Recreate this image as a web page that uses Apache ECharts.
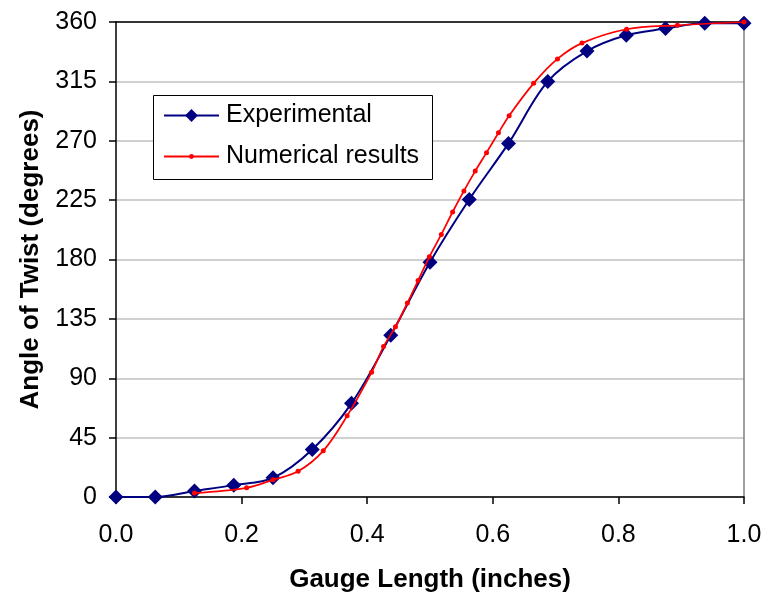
<!DOCTYPE html>
<html>
<head>
<meta charset="utf-8">
<script src="https://cdn.jsdelivr.net/npm/echarts@6/dist/echarts.min.js"></script>
<style>
html,body{margin:0;padding:0;background:#fff;}
#chart{width:765px;height:594px;}
</style>
</head>
<body>
<div id="chart"></div>
<script>
var xTicks = [0, 0.2, 0.4, 0.6, 0.8, 1.0];
var yTicks = [0, 45, 90, 135, 180, 225, 270, 315, 360];

var expName = 'Experimental';
var expX = [0, 0.0625, 0.125, 0.1875, 0.25, 0.3125, 0.375, 0.4375, 0.5, 0.5625, 0.625, 0.6875, 0.75, 0.8125, 0.875, 0.9375, 1.0];
var expY = [0, 0, 4.5, 9, 14.5, 36, 71, 122.5, 178, 225.5, 268, 315, 338, 350, 355, 359, 359];

var numName = 'Numerical results';
var numX = [0.125, 0.208, 0.25, 0.29, 0.33, 0.368, 0.407, 0.426, 0.445, 0.464, 0.481, 0.499, 0.518, 0.536, 0.554, 0.572, 0.590, 0.609, 0.626, 0.665, 0.703, 0.742, 0.813, 0.894, 1.0];
var numY = [3, 7, 13, 19.5, 35, 61.5, 94.5, 114, 129, 147, 164, 182, 199, 216, 232, 247, 261, 276, 289, 313.5, 332, 344, 354.5, 357.5, 360];

function pairs(xs, ys) { return xs.map(function (x, i) { return [x, ys[i]]; }); }

var FONT = 'Liberation Sans, Arial, sans-serif';
var chart = echarts.init(document.getElementById('chart'));
chart.setOption({
  backgroundColor: '#ffffff',
  animation: false,
  textStyle: { fontFamily: FONT },
  grid: { left: 116, right: 21, top: 22, bottom: 97, containLabel: false, outerBoundsMode: 'none' },
  graphic: [{
    type: 'rect', z: 5,
    shape: { x: 153.5, y: 95.5, width: 279, height: 84 },
    style: { fill: '#ffffff', stroke: '#000000', lineWidth: 1 }
  }],
  legend: [{
    data: [expName], orient: 'vertical', left: 163, top: 103, padding: 0, z: 10,
    itemWidth: 55, itemHeight: 16,
    textStyle: { fontSize: 25, color: '#000', fontFamily: FONT, padding: [0, 0, 0, 2] }
  }, {
    data: [numName], orient: 'vertical', left: 163, top: 144, padding: 0, z: 10,
    itemWidth: 55, itemHeight: 6,
    textStyle: { fontSize: 25, color: '#000', fontFamily: FONT, padding: [0, 0, 0, 2] }
  }],
  xAxis: [{
    type: 'value', min: xTicks[0], max: xTicks[xTicks.length - 1], interval: 0.2,
    name: 'Gauge Length (inches)', nameLocation: 'middle', nameGap: 70,
    nameTextStyle: { fontSize: 26, fontWeight: 'bold', color: '#000', fontFamily: FONT },
    axisLine: { show: true, onZero: false, lineStyle: { color: '#000', width: 1.5 } },
    axisTick: { show: true, inside: false, length: 7, lineStyle: { color: '#000', width: 1.5 } },
    axisLabel: { fontSize: 25, color: '#000', margin: 26, fontFamily: FONT,
      formatter: function (v) { return v.toFixed(1); } },
    splitLine: { show: false }
  }, {
    type: 'value', position: 'top', min: xTicks[0], max: xTicks[xTicks.length - 1],
    axisLine: { show: true, onZero: false, lineStyle: { color: '#000', width: 1.5 } },
    axisTick: { show: false }, axisLabel: { show: false }, splitLine: { show: false }
  }],
  yAxis: [{
    type: 'value', min: yTicks[0], max: yTicks[yTicks.length - 1], interval: 45,
    name: 'Angle of Twist (degrees)', nameLocation: 'middle', nameGap: 72,
    nameTextStyle: { fontSize: 26, fontWeight: 'bold', color: '#000', fontFamily: FONT },
    axisLine: { show: true, onZero: false, lineStyle: { color: '#000', width: 1.5 } },
    axisTick: { show: true, inside: false, length: 7, lineStyle: { color: '#000', width: 1.5 } },
    axisLabel: { fontSize: 25, color: '#000', margin: 19, fontFamily: FONT },
    splitLine: { show: true, lineStyle: { color: '#c0c0c0', width: 1.5 } }
  }, {
    type: 'value', position: 'right', min: yTicks[0], max: yTicks[yTicks.length - 1],
    axisLine: { show: true, onZero: false, lineStyle: { color: '#808080', width: 1.5 } },
    axisTick: { show: false }, axisLabel: { show: false }, splitLine: { show: false }
  }],
  series: [{
    name: expName, type: 'line', xAxisIndex: 0, yAxisIndex: 0,
    data: pairs(expX, expY), smooth: 0.35,
    symbol: 'diamond', symbolSize: 15,
    lineStyle: { color: '#000080', width: 2 },
    itemStyle: { color: '#000080' }, z: 3
  }, {
    name: numName, type: 'line', xAxisIndex: 0, yAxisIndex: 0,
    data: pairs(numX, numY), smooth: 0.35,
    symbol: 'circle', symbolSize: 5,
    lineStyle: { color: '#ff0000', width: 1.75 },
    itemStyle: { color: '#ff0000' }, z: 4
  }]
});
</script>
</body>
</html>
